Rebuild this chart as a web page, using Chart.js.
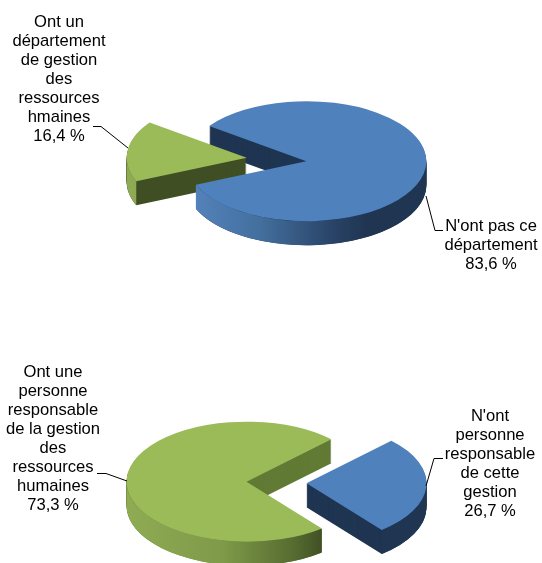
<!DOCTYPE html>
<html>
<head>
<meta charset="utf-8">
<style>
html,body{margin:0;padding:0;background:#fff;width:542px;height:563px;overflow:hidden}
canvas{position:absolute;left:0;top:0}
</style>
<script src="https://cdn.jsdelivr.net/npm/chart.js@4"></script>
</head>
<body>
<canvas id="c1" width="542" height="563"></canvas>
<canvas id="c2" width="542" height="563"></canvas>
<script>
// ---- data ----
const categoriesTop = ["N'ont pas ce département", "Ont un département de gestion des ressources hmaines"];
const valuesTop = [83.6, 16.4];
const categoriesBottom = ["N'ont personne responsable de cette gestion", "Ont une personne responsable de la gestion des ressources humaines"];
const valuesBottom = [26.7, 73.3];
const labelTopLeft = ["Ont un", "département", "de gestion", "des", "ressources", "hmaines", "16,4 %"];
const labelTopRight = ["N'ont pas ce", "département", "83,6 %"];
const labelBottomLeft = ["Ont une", "personne", "responsable", "de la gestion", "des", "ressources", "humaines", "73,3 %"];
const labelBottomRight = ["N'ont", "personne", "responsable", "de cette", "gestion", "26,7 %"];

// ---- style ----
const BLUE = "#4F81BD", GREEN = "#9BBB59";
const blueWall = [[0,"#5584BE"],[0.3,"#44709F"],[0.6,"#2A4569"],[0.75,"#1F3552"],[1,"#1F3552"]];
const greenWall = [[0,"#8FAB53"],[0.4,"#7F9A49"],[0.7,"#556B30"],[0.82,"#404F24"],[1,"#404F24"]];

const pie3d = {
  id: "pie3d",
  beforeDatasetDraw(chart, args, o) {
    const ctx = chart.ctx;
    const arcs = chart.getDatasetMeta(args.index).data;
    const place = (el) => {
      const mid = (el.startAngle + el.endAngle) / 2;
      ctx.translate(o.cx, o.cy);
      ctx.scale(1, o.tilt);
      ctx.translate(Math.cos(mid) * o.explode, Math.sin(mid) * o.explode);
      ctx.translate(-el.x, -el.y);
    };
    // cut faces: stacked copies of each slice
    arcs.forEach((el, i) => {
      const flat = Object.create(el);
      flat.options = Object.assign({}, el.options, {backgroundColor: o.sides[i], borderWidth: 0});
      for (let d = o.depth; d > 0; d--) {
        ctx.save();
        ctx.translate(0, d);
        place(el);
        flat.draw(ctx);
        ctx.restore();
      }
    });
    // outer wall, front half only
    arcs.forEach((el, i) => {
      const mid = (el.startAngle + el.endAngle) / 2;
      const x = o.cx + Math.cos(mid) * o.explode;
      const y = o.cy + Math.sin(mid) * o.explode * o.tilt;
      const r = el.outerRadius, ry = r * o.tilt;
      const T = Math.PI * 2;
      for (let k = -1; k <= 2; k++) {
        const a1 = Math.max(el.startAngle, k * T);
        const a2 = Math.min(el.endAngle, k * T + Math.PI);
        if (a2 <= a1) continue;
        const g = ctx.createLinearGradient(x - r, 0, x + r, 0);
        o.walls[i].forEach(s => g.addColorStop(s[0], s[1]));
        ctx.beginPath();
        ctx.ellipse(x, y, r, ry, 0, a1, a2);
        ctx.ellipse(x, y + o.depth, r, ry, 0, a2, a1, true);
        ctx.closePath();
        ctx.fillStyle = g;
        ctx.fill();
      }
    });
    // top faces
    arcs.forEach(el => {
      ctx.save();
      place(el);
      el.draw(ctx);
      ctx.restore();
    });
    return false;
  },
  afterDraw(chart, args, o) {
    const ctx = chart.ctx;
    ctx.save();
    ctx.strokeStyle = "#000";
    ctx.lineWidth = 1;
    o.leaders.forEach(pts => {
      ctx.beginPath();
      pts.forEach((p, i) => i ? ctx.lineTo(p[0], p[1]) : ctx.moveTo(p[0], p[1]));
      ctx.stroke();
    });
    ctx.fillStyle = "#000";
    ctx.font = '16.6px "Liberation Sans", Arial, sans-serif';
    ctx.textAlign = "center";
    ctx.textBaseline = "alphabetic";
    o.labels.forEach(l => {
      l.lines.forEach((t, i) => ctx.fillText(t, l.x, l.y + i * 19));
    });
    ctx.restore();
  }
};

function make(id, categories, values, rotation, opts) {
  return new Chart(document.getElementById(id), {
    type: "pie",
    data: {
      labels: categories,
      datasets: [{
        data: values,
        backgroundColor: opts.colors,
        borderWidth: 0
      }]
    },
    options: {
      responsive: false,
      animation: false,
      rotation: rotation,
      radius: 120,
      events: [],
      layout: {padding: 0},
      plugins: {
        legend: {display: false},
        tooltip: {enabled: false},
        title: {display: false},
        pie3d: opts.pie
      }
    },
    plugins: [pie3d]
  });
}

make("c1", categoriesTop, valuesTop, 306, {
  colors: [BLUE, GREEN],
  pie: {
    cx: 276.5, cy: 159.5, tilt: 0.5, depth: 24, explode: 30,
    sides: ["#1F3552", "#404F24"],
    walls: [blueWall, greenWall],
    leaders: [
      [[93,126.5],[101,126.5],[128,148]],
      [[426,196],[435,230.5],[443,230.5]]
    ],
    labels: [
      {lines: labelTopLeft, x: 59, y: 27},
      {lines: labelTopRight, x: 491, y: 231}
    ]
  }
});

make("c2", categoriesBottom, valuesBottom, 45, {
  colors: [BLUE, GREEN],
  pie: {
    cx: 276.5, cy: 482.5, tilt: 0.5, depth: 24, explode: 30,
    sides: ["#1F3552", "#617A35"],
    walls: [blueWall, greenWall],
    leaders: [
      [[97,473.5],[106,473.5],[127,481]],
      [[426,486],[434,458.5],[443,458.5]]
    ],
    labels: [
      {lines: labelBottomLeft, x: 53, y: 377},
      {lines: labelBottomRight, x: 490, y: 421}
    ]
  }
});
</script>
</body>
</html>
